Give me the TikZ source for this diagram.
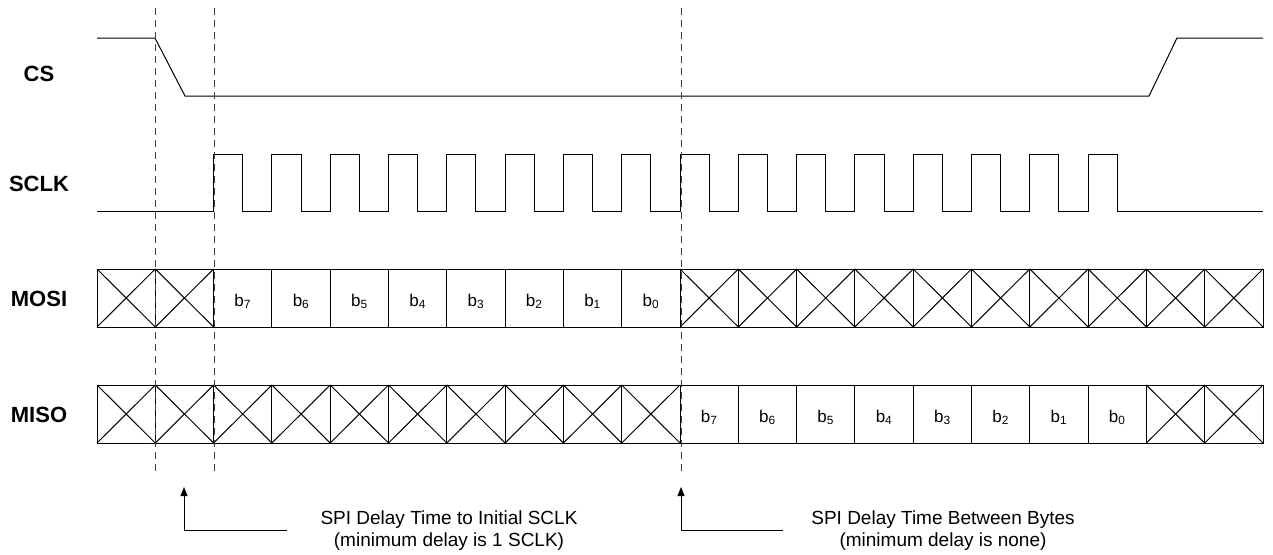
\documentclass[tikz,border=0pt]{standalone}
\usepackage{fontspec}
\setmainfont{Liberation Sans}
\usetikzlibrary{arrows.meta}
\begin{document}
\begin{tikzpicture}[x=1pt,y=-1pt,
  sig/.style={line width=1pt, black},
  guide/.style={line width=0.9pt, black!75, dash pattern=on 7pt off 5pt},
  lbl/.style={font=\bfseries\fontsize{22}{26}\selectfont, anchor=base, inner sep=0pt},
  bit/.style={font=\fontsize{17}{20}\selectfont, anchor=base, inner sep=0pt},
  note/.style={font=\fontsize{19}{21.5}\selectfont, align=center, anchor=north, inner sep=0pt},
  pointer/.style={line width=1pt, black, -{Triangle[length=9pt,width=7pt]}}]
\useasboundingbox (0,0) rectangle (1273,554);
\def\w{58.3}
\def\xo{97}
% signal labels
\node[lbl] (cs) at (39,81) {CS};
\node[lbl] (sclk) at (39,191) {SCLK};
\node[lbl] (mosi) at (39,306) {MOSI};
\node[lbl] (miso) at (39,422) {MISO};
% CS
\draw[sig] (97,38) -- (155,38) -- (185,96) -- (1149,96) -- (1177,38) -- (1263,38);
% SCLK
\draw[sig] (97,211) foreach \i in {2,...,17} {
  -- ({\xo+\w*\i},211) -- ({\xo+\w*\i},154) -- ({\xo+\w*\i+\w/2},154) -- ({\xo+\w*\i+\w/2},211) } -- (1263,211);
% MOSI row
\draw[sig] (97,269) rectangle (1263,327);
\foreach \i in {1,...,19} \draw[sig] ({\xo+\w*\i},269) -- ({\xo+\w*\i},327);
\foreach \i in {0,1,10,11,12,13,14,15,16,17,18,19} {
  \draw[sig] ({\xo+\w*\i},269) -- ({\xo+\w*(\i+1)},327);
  \draw[sig] ({\xo+\w*\i},327) -- ({\xo+\w*(\i+1)},269);
}
\foreach \i/\b in {2/7,3/6,4/5,5/4,6/3,7/2,8/1,9/0}
  \node[bit] (mo\b) at ({\xo+\w*\i+\w/2},306) {b\textsubscript{\b}};
% MISO row
\draw[sig] (97,385) rectangle (1263,443);
\foreach \i in {1,...,19} \draw[sig] ({\xo+\w*\i},385) -- ({\xo+\w*\i},443);
\foreach \i in {0,...,9,18,19} {
  \draw[sig] ({\xo+\w*\i},385) -- ({\xo+\w*(\i+1)},443);
  \draw[sig] ({\xo+\w*\i},443) -- ({\xo+\w*(\i+1)},385);
}
\foreach \i/\b in {10/7,11/6,12/5,13/4,14/3,15/2,16/1,17/0}
  \node[bit] (mi\b) at ({\xo+\w*\i+\w/2},422) {b\textsubscript{\b}};
% guides
\foreach \x in {155,214,681} \draw[guide] (\x,8) -- (\x,473);
% pointers
\coordinate (a1s) at (287,530);
\coordinate (a1c) at (184,530);
\coordinate (a1t) at (184,487);
\coordinate (a2s) at (783,530);
\coordinate (a2c) at (681,530);
\coordinate (a2t) at (681,487);
\draw[pointer] (a1s) -- (a1c) -- (a1t);
\draw[pointer] (a2s) -- (a2c) -- (a2t);
\node[note] (n1) at (449,511) {SPI Delay Time to Initial SCLK\\(minimum delay is 1 SCLK)};
\node[note] (n2) at (943,511) {SPI Delay Time Between Bytes\\(minimum delay is none)};
\end{tikzpicture}
\end{document}
